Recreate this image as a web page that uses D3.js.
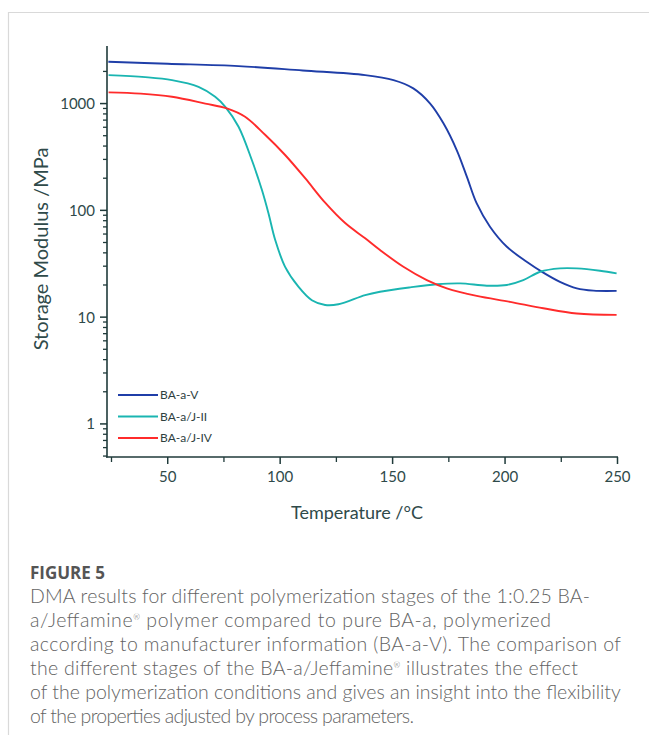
<!DOCTYPE html>
<html lang="en">

<head>
    <meta charset="UTF-8">
    <title>DMA storage modulus</title>
    <script src="https://d3js.org/d3.v7.min.js"></script>
    <style>
        body {
            margin: 0;
            background: #fff;
        }

        .tick-label {
            font: 15px Lato, sans-serif;
            fill: #2f4a4a;
        }

        .axis-title {
            font: 18px Lato, sans-serif;
            fill: #2f4a4a;
        }

        .legend text {
            font: 12px Lato, sans-serif;
            fill: #2f3f3f;
        }

        .caption {
            font-family: Lato, sans-serif;
            font-weight: 300;
            fill: #636363;
        }
    </style>
</head>

<body>
    <script>
        // series (temperature in °C, storage modulus in MPa)
        const tempV = [23.6, 50, 81.5, 110, 137.8, 150.4, 159.2, 166.7, 172.6, 178.5, 183, 187.4, 193.3, 200.8, 209.6, 217, 224.4, 231.9, 239.3, 249.6];
        const modV = [2460, 2360, 2244, 2040, 1848, 1660, 1388, 1000, 653, 367, 207, 116, 70.3, 45.6, 33, 26.1, 21.4, 18.6, 17.7, 17.6];

        const tempJ2 = [23.7, 40, 51.9, 63.7, 71.1, 75.6, 81.5, 87.4, 91.9, 94.8, 97.8, 102.2, 108.1, 114.1, 120, 125.9, 137.8, 144.4, 157.8, 169.6, 180, 191.9, 200.8, 208.1, 215.6, 224.4, 231.9, 242.2, 249.6];
        const modJ2 = [1848, 1770, 1660, 1436, 1158, 933, 607, 296, 155, 94, 52.7, 29.6, 19.3, 14.4, 13.0, 13.2, 16.1, 17.3, 19, 20.3, 20.7, 19.7, 20, 22.2, 26.6, 28.6, 28.6, 27.2, 25.7];

        const tempJ4 = [23.7, 38, 51.9, 66.7, 76.3, 84.4, 93.3, 102.2, 111.1, 120, 128.9, 137.8, 144.4, 154.8, 165.2, 174.1, 187.4, 202.2, 217, 231.9, 249.6];
        const modJ4 = [1274, 1240, 1158, 1000, 901, 752, 510, 330, 200, 118, 76, 54.7, 42.5, 29.6, 22.2, 18.6, 15.8, 13.9, 12.1, 10.8, 10.5];

        const seriesNames = ["BA-a-V", "BA-a/J-II", "BA-a/J-IV"];
        const seriesColors = ["#1f3ea8", "#1ab5b1", "#ff2b2b"];

        const xTicks = [50, 100, 150, 200, 250];
        const xMinorTicks = [25, 75, 125, 175, 225];
        const yTicks = [1, 10, 100, 1000];

        const captionLines = [
            "DMA results for different polymerization stages of the 1:0.25 BA-",
            "a/Jeffamine\u00AE polymer compared to pure BA-a, polymerized",
            "according to manufacturer information (BA-a-V). The comparison of",
            "the different stages of the BA-a/Jeffamine\u00AE illustrates the effect",
            "of the polymerization conditions and gives an insight into the flexibility",
            "of the properties adjusted by process parameters."
        ];
        const captionEnds = [590, 551, 621, 578, 621, 414];

        const width = 649;
        const height = 735;

        const svg = d3.select("body").append("svg")
            .attr("width", width)
            .attr("height", height);

        // card border
        svg.append("line").attr("x1", 8).attr("x2", width).attr("y1", 12.5).attr("y2", 12.5)
            .attr("stroke", "#d9d9d9").attr("stroke-width", 1.2);
        svg.append("line").attr("x1", 8.5).attr("x2", 8.5).attr("y1", 12).attr("y2", height)
            .attr("stroke", "#d9d9d9").attr("stroke-width", 1.2);

        const x = d3.scaleLinear().domain([23, 250]).range([107, 617.5]);
        const y = d3.scaleLog().domain([0.49, 2850]).range([457, 55]);

        const axisColor = "#1f3a3a";

        // y axis
        const gy = svg.append("g");
        gy.append("line").attr("x1", x(23)).attr("x2", x(23))
            .attr("y1", 46).attr("y2", 457.5)
            .attr("stroke", axisColor).attr("stroke-width", 1.6);
        const yMinor = [];
        [0.1, 1, 10, 100, 1000].forEach(dec => {
            for (let k = 2; k <= 9; k++) {
                const v = dec * k;
                if (v >= 0.49 && v <= 2850) yMinor.push(v);
            }
        });
        gy.selectAll(".ymin").data(yMinor).enter().append("line")
            .attr("x1", x(23) - 4).attr("x2", x(23))
            .attr("y1", d => y(d)).attr("y2", d => y(d))
            .attr("stroke", axisColor).attr("stroke-width", 1.3);
        gy.selectAll(".ymaj").data(yTicks).enter().append("line")
            .attr("x1", x(23) - 7).attr("x2", x(23))
            .attr("y1", d => y(d)).attr("y2", d => y(d))
            .attr("stroke", axisColor).attr("stroke-width", 1.5);
        gy.selectAll(".ylab").data(yTicks).enter().append("text")
            .attr("class", "tick-label")
            .attr("x", x(23) - 12)
            .attr("y", d => y(d))
            .attr("dy", "0.36em")
            .attr("text-anchor", "end")
            .text(d => d);

        // x axis
        const gx = svg.append("g");
        gx.append("line").attr("x1", x(23) - 1).attr("x2", x(250) + 0.5)
            .attr("y1", 457).attr("y2", 457)
            .attr("stroke", axisColor).attr("stroke-width", 1.6);
        gx.selectAll(".xmin").data(xMinorTicks).enter().append("line")
            .attr("x1", d => x(d)).attr("x2", d => x(d))
            .attr("y1", 457).attr("y2", 462)
            .attr("stroke", axisColor).attr("stroke-width", 1.3);
        gx.selectAll(".xmaj").data(xTicks).enter().append("line")
            .attr("x1", d => x(d)).attr("x2", d => x(d))
            .attr("y1", 457).attr("y2", 464)
            .attr("stroke", axisColor).attr("stroke-width", 1.5);
        gx.selectAll(".xlab").data(xTicks).enter().append("text")
            .attr("class", "tick-label")
            .attr("x", d => x(d))
            .attr("y", 482)
            .attr("text-anchor", "middle")
            .text(d => d);

        svg.append("text").attr("class", "axis-title")
            .attr("x", 357).attr("y", 519)
            .attr("text-anchor", "middle")
            .text("Temperature /\u00B0C");

        svg.append("text").attr("class", "axis-title")
            .attr("transform", "translate(48,249) rotate(-90)")
            .attr("text-anchor", "middle")
            .style("font-size", "20px")
            .text("Storage Modulus /MPa");

        // curves
        const series = [
            { t: tempV, v: modV },
            { t: tempJ2, v: modJ2 },
            { t: tempJ4, v: modJ4 }
        ];
        const line = d3.line()
            .x(d => x(d[0]))
            .y(d => y(d[1]))
            .curve(d3.curveCatmullRom.alpha(0.5));

        svg.append("g").selectAll("path")
            .data(series)
            .enter().append("path")
            .attr("d", s => line(d3.zip(s.t, s.v)))
            .attr("fill", "none")
            .attr("stroke", (s, i) => seriesColors[i])
            .attr("stroke-width", 1.9);

        // legend
        const legend = svg.append("g").attr("class", "legend");
        seriesNames.forEach((name, i) => {
            const ly = 395 + i * 21.5;
            legend.append("line")
                .attr("x1", 118).attr("x2", 158)
                .attr("y1", ly).attr("y2", ly)
                .attr("stroke", seriesColors[i]).attr("stroke-width", 1.8);
            legend.append("text")
                .attr("x", 160).attr("y", ly)
                .attr("dy", "0.35em")
                .text(name);
        });

        // caption
        svg.append("text")
            .attr("x", 30).attr("y", 579)
            .style("font", "bold 17px 'Open Sans', sans-serif")
            .style("fill", "#555")
            .text("FIGURE 5");

        function addCaptionLine(ln, i, size) {
            const t = svg.append("text")
                .attr("class", "caption")
                .style("font-size", size + "px")
                .attr("x", 30)
                .attr("y", 603 + i * 24);
            const parts = ln.split("\u00AE");
            parts.forEach((p, j) => {
                t.append("tspan").text(p);
                if (j < parts.length - 1) {
                    t.append("tspan").attr("dy", -7).style("font-size", "8px").text("\u00AE");
                    t.append("tspan").attr("dy", 7).text(" ");
                }
            });
            return t;
        }

        // size the caption font so the longest line fits its measured width
        const probe = addCaptionLine(captionLines[4], 4, 18);
        const natural = probe.node().getComputedTextLength();
        probe.remove();
        const capSize = 18 * (captionEnds[4] - 30) / natural;

        captionLines.forEach((ln, i) => {
            const t = addCaptionLine(ln, i, capSize);
            const len = t.node().getComputedTextLength();
            const target = captionEnds[i] - 30;
            if (Math.abs(len - target) > 2) {
                t.attr("textLength", target).attr("lengthAdjust", "spacing");
            }
        });
    </script>
</body>

</html>
